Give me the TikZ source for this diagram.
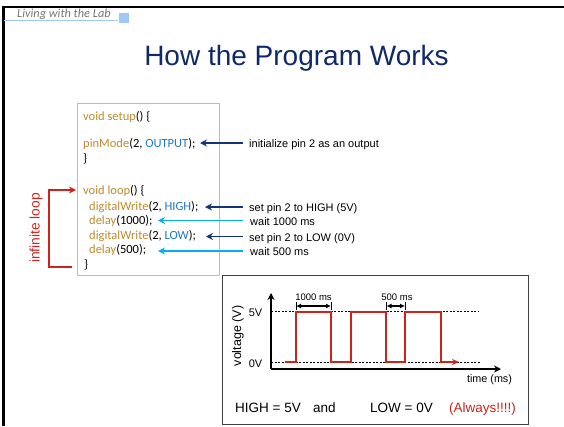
\documentclass[tikz,border=0pt]{standalone}
\usepackage{fontspec}
\setmainfont{Liberation Sans}
\newfontfamily\calibri{Carlito}
\usetikzlibrary{arrows.meta}
\definecolor{codebrown}{RGB}{191,139,44}
\definecolor{codeblue}{RGB}{32,120,200}
\definecolor{navyarr}{RGB}{22,52,120}
\definecolor{cyanarr}{RGB}{0,176,240}
\definecolor{loopred}{RGB}{204,36,28}
\definecolor{titleblue}{RGB}{16,42,102}
\definecolor{boxblue}{RGB}{150,195,240}
\definecolor{labblue}{RGB}{160,200,245}
\definecolor{labgray}{RGB}{120,120,120}
\newcommand\kw[1]{\textcolor{codebrown}{#1}}
\newcommand\cn[1]{\textcolor{codeblue}{#1}}
\tikzset{
  codeline/.style={anchor=base west, inner sep=0pt, font=\calibri\fontsize{12.5}{14}\selectfont},
  notetxt/.style={anchor=base west, inner sep=0pt, font=\fontsize{11}{13}\selectfont},
  navyarrow/.style={draw=navyarr, line width=1.6pt, -{Stealth[length=7pt,width=7pt]}},
  cyanarrow/.style={draw=cyanarr, line width=1.6pt, -{Stealth[length=7pt,width=7pt]}},
  redarrow/.style={draw=loopred, line width=1.3pt, -{Stealth[length=7pt,width=7pt]}},
  graphtxt/.style={inner sep=0pt, font=\fontsize{10}{12}\selectfont},
  axisline/.style={draw=black, line width=1.5pt, -{Stealth[length=7pt,width=7pt]}},
  dashline/.style={draw=black, line width=0.6pt, dash pattern=on 2pt off 1.5pt},
  signal/.style={draw=loopred, line width=1.4pt},
  msarrow/.style={draw=black, line width=1.3pt, {Latex[length=5pt,width=5pt]}-{Latex[length=5pt,width=5pt]}},
  bottomtxt/.style={anchor=base west, inner sep=0pt, font=\fontsize{13.5}{15}\selectfont},
}
\begin{document}
\begin{tikzpicture}[x=1pt,y=-1pt]
\useasboundingbox[fill=white] (0,0) rectangle (564,426);
% slide frame
\draw[line width=2.6pt] (2.5,7) -- (564,7);
\draw[line width=2.4pt] (3.5,6) -- (3.5,426);
\draw[draw=labblue, line width=1.2pt] (4,20.5) -- (118,20.5);
\fill[labblue] (119,13) rectangle (129,22.5);
\node[anchor=base west, inner sep=0pt, text=labgray, font=\calibri\itshape\fontsize{12.3}{14}\selectfont] (lab) at (17,17.5) {Living with the Lab};
% title
\node[anchor=base, inner sep=0pt, text=titleblue, font=\fontsize{28}{32}\selectfont] (title) at (296.5,65) {How the Program Works};
% code box
\draw[draw=boxblue, line width=1pt] (77,103) rectangle (219,275);
\node[codeline] (c1) at (83,120) {\kw{void setup}() \{};
\node[codeline] (c2) at (83,147) {\kw{pinMode}(2, \cn{OUTPUT});};
\node[codeline] (c3) at (83,162) {\}};
\node[codeline] (c4) at (83,194) {\kw{void loop}() \{};
\node[codeline] (c5) at (89,210) {\kw{digitalWrite}(2, \cn{HIGH});};
\node[codeline] (c6) at (89,224) {\kw{delay}(1000);};
\node[codeline] (c7) at (89,239) {\kw{digitalWrite}(2, \cn{LOW});};
\node[codeline] (c8) at (89,253) {\kw{delay}(500);};
\node[codeline] (c9) at (84,268) {\}};
% notes
\node[notetxt] (n1) at (249,147) {initialize pin 2 as an output};
\node[notetxt] (n2) at (249,211) {set pin 2 to HIGH (5V)};
\node[notetxt] (n3) at (250,225) {wait 1000 ms};
\node[notetxt] (n4) at (249,241) {set pin 2 to LOW (0V)};
\node[notetxt] (n5) at (250,255) {wait 500 ms};
\coordinate (t1) at (243,143); \coordinate (a1) at (200,143);
\coordinate (t2) at (243,207); \coordinate (a2) at (205,207);
\coordinate (t3) at (243,220.5); \coordinate (a3) at (158,220.5);
\coordinate (t4) at (243,236.5); \coordinate (a4) at (206,236.5);
\coordinate (t5) at (243,251); \coordinate (a5) at (158,251);
\draw[navyarrow] (t1) -- (a1);
\draw[navyarrow] (t2) -- (a2);
\draw[cyanarrow] (t3) -- (a3);
\draw[navyarrow] (t4) -- (a4);
\draw[cyanarrow] (t5) -- (a5);
% infinite loop
\coordinate (lb) at (72,267); \coordinate (lt) at (76,190);
\draw[redarrow] (lb) -- (49,267) -- (49,190) -- (lt);
\node[rotate=90, inner sep=0pt, text=loopred, font=\fontsize{13.8}{15}\selectfont] (loop) at (36,228) {infinite loop};
% graph box
\draw[draw=black!75, line width=0.9pt] (222,275.5) rectangle (528,424);
\coordinate (o) at (271,369);
\coordinate (ytip) at (271,293);
\coordinate (xtip) at (501,369);
\draw[dashline] (271,311.5) -- (478,311.5);
\draw[dashline] (271,362) -- (480,362);
\draw[axisline] (o) -- (ytip);
\draw[axisline] (o) -- (xtip);
\coordinate (sstart) at (285,362);
\coordinate (send) at (459,362);
\draw[signal, -{Stealth[length=7pt,width=6pt]}] (sstart) -- (296,362) -- (296,312) -- (331,312) -- (331,362) -- (351,362) -- (351,312) -- (386,312) -- (386,362) -- (405,362) -- (405,312) -- (441,312) -- (441,362) -- (send);
% duration markers
\coordinate (d1a) at (296,306); \coordinate (d1b) at (331,306);
\coordinate (d2a) at (386.5,306); \coordinate (d2b) at (405,306);
\draw[msarrow] (d1a) -- (d1b);
\draw[msarrow] (d2a) -- (d2b);
\foreach \x in {296,331,386.5,405} \draw[line width=0.9pt] (\x,302) -- (\x,310);
\node[graphtxt, font=\fontsize{9.5}{11}\selectfont] (l1) at (313.5,297) {1000 ms};
\node[graphtxt, font=\fontsize{9.5}{11}\selectfont] (l2) at (397,297) {500 ms};
\node[graphtxt, font=\fontsize{11}{12}\selectfont] (v5) at (255.5,312.5) {5V};
\node[graphtxt, font=\fontsize{11}{12}\selectfont] (v0) at (255.5,363.5) {0V};
\node[graphtxt, rotate=90, font=\fontsize{12.5}{14}\selectfont] (vl) at (238,336) {voltage (V)};
\node[graphtxt, font=\fontsize{10.8}{12}\selectfont] (tl) at (489.5,379.5) {time (ms)};
% bottom line
\node[bottomtxt] (b1) at (235,412) {HIGH = 5V};
\node[bottomtxt] (b2) at (313,412) {and};
\node[bottomtxt] (b3) at (370,412) {LOW = 0V};
\node[bottomtxt, text=loopred] (b4) at (449,412) {(Always!!!!)};
\end{tikzpicture}
\end{document}
